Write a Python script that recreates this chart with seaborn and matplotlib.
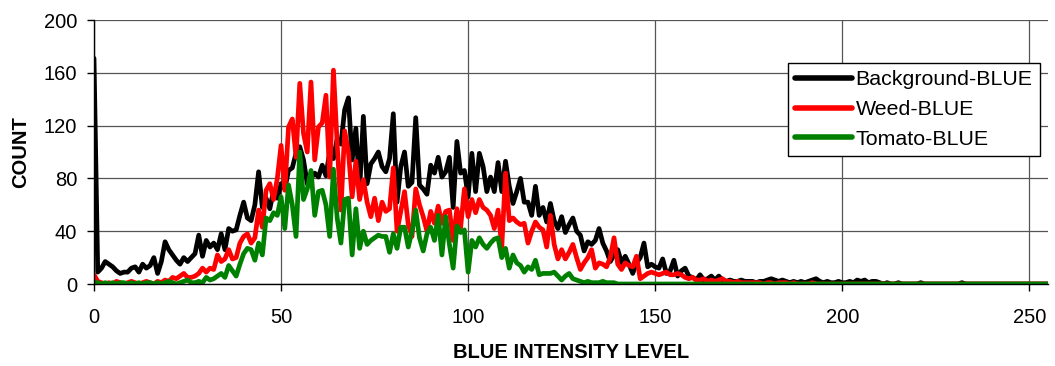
import numpy as np
import pandas as pd
import matplotlib
matplotlib.use("Agg")
import matplotlib.pyplot as plt
import seaborn as sns

intensity = list(range(256))

background_blue = [
    171, 9, 12, 17, 15, 13, 10, 8, 9, 9,
    12, 13, 9, 15, 12, 14, 20, 8, 17, 32,
    26, 22, 18, 15, 20, 17, 20, 23, 37, 21,
    33, 28, 31, 26, 38, 26, 42, 40, 41, 52,
    62, 50, 48, 60, 85, 58, 65, 57, 71, 65,
    76, 72, 86, 88, 99, 104, 94, 76, 80, 84,
    81, 90, 82, 100, 95, 110, 106, 132, 141, 94,
    118, 71, 127, 76, 91, 95, 100, 89, 85, 95,
    129, 62, 89, 100, 74, 77, 126, 75, 72, 68,
    90, 84, 96, 81, 85, 96, 58, 108, 84, 86,
    66, 99, 70, 99, 89, 70, 81, 70, 92, 70,
    93, 74, 61, 70, 80, 62, 62, 52, 74, 52,
    58, 47, 61, 48, 42, 51, 39, 45, 50, 40,
    37, 25, 32, 30, 33, 42, 31, 25, 17, 22,
    26, 16, 21, 15, 8, 16, 20, 31, 13, 15,
    13, 12, 19, 8, 10, 18, 6, 10, 12, 6,
    5, 3, 7, 3, 4, 6, 3, 6, 3, 2,
    3, 2, 2, 3, 2, 2, 2, 1, 2, 2,
    3, 4, 3, 2, 3, 2, 1, 2, 1, 2,
    1, 2, 3, 4, 2, 1, 2, 1, 1, 2,
    1, 1, 2, 1, 3, 2, 3, 1, 2, 2,
    1, 0, 1, 0, 0, 1, 0, 0, 0, 0,
    0, 1, 0, 0, 0, 0, 0, 0, 0, 0,
    0, 0, 1, 0, 0, 0, 0, 0, 0, 0,
    0, 0, 0, 0, 0, 0, 0, 0, 0, 0,
    0, 0, 0, 0, 0, 0,
]

weed_blue = [
    7, 2, 1, 0, 1, 0, 2, 1, 0, 1,
    2, 1, 0, 1, 2, 1, 0, 2, 1, 3,
    2, 5, 4, 6, 8, 5, 5, 6, 8, 12,
    9, 12, 11, 22, 17, 19, 26, 19, 20, 31,
    36, 38, 31, 35, 56, 43, 71, 76, 64, 80,
    105, 71, 119, 125, 96, 152, 114, 100, 153, 94,
    119, 122, 143, 81, 162, 106, 56, 116, 100, 66,
    93, 64, 79, 62, 51, 65, 48, 62, 55, 57,
    88, 40, 55, 70, 45, 36, 72, 60, 51, 40,
    55, 46, 59, 46, 55, 56, 33, 57, 43, 72,
    51, 64, 54, 64, 58, 56, 52, 42, 56, 28,
    84, 48, 50, 47, 45, 46, 31, 40, 47, 43,
    41, 28, 52, 30, 19, 26, 19, 24, 30, 20,
    11, 16, 20, 26, 12, 16, 15, 13, 20, 35,
    15, 11, 16, 14, 13, 21, 4, 6, 8, 9,
    8, 7, 8, 9, 7, 7, 8, 7, 5, 4,
    5, 3, 3, 4, 2, 3, 2, 3, 4, 2,
    2, 1, 2, 1, 1, 1, 1, 1, 1, 0,
    1, 1, 0, 1, 1, 1, 0, 1, 0, 0,
    0, 0, 1, 0, 0, 0, 0, 0, 0, 0,
    0, 0, 0, 0, 0, 0, 0, 0, 0, 0,
    0, 0, 0, 0, 0, 0, 0, 0, 0, 0,
    0, 0, 0, 0, 0, 0, 0, 0, 0, 0,
    0, 0, 0, 0, 0, 0, 0, 0, 0, 0,
    0, 0, 0, 0, 0, 0, 0, 0, 0, 0,
    0, 0, 0, 0, 0, 0,
]

tomato_blue = [
    1, 1, 0, 1, 0, 1, 0, 1, 1, 0,
    1, 0, 1, 0, 1, 1, 0, 1, 0, 1,
    2, 1, 0, 1, 2, 3, 1, 1, 2, 1,
    5, 3, 4, 6, 8, 5, 14, 10, 6, 15,
    23, 27, 26, 18, 31, 22, 50, 48, 54, 52,
    66, 42, 75, 60, 36, 100, 64, 72, 86, 52,
    70, 71, 60, 36, 87, 50, 31, 64, 65, 22,
    57, 27, 40, 30, 33, 35, 37, 36, 36, 24,
    38, 27, 43, 43, 28, 40, 56, 35, 25, 38,
    43, 33, 52, 22, 51, 30, 12, 44, 39, 41,
    9, 33, 28, 35, 30, 27, 31, 34, 35, 20,
    27, 12, 22, 16, 14, 9, 13, 11, 18, 7,
    8, 8, 8, 9, 6, 3, 6, 8, 4, 3,
    2, 1, 2, 1, 1, 1, 2, 1, 1, 1,
    0, 0, 0, 0, 0, 0, 0, 0, 0, 0,
    0, 0, 0, 0, 0, 0, 0, 0, 0, 0,
    0, 0, 0, 0, 0, 0, 0, 0, 0, 0,
    0, 0, 0, 0, 0, 0, 0, 0, 0, 0,
    0, 0, 0, 0, 0, 0, 0, 0, 0, 0,
    0, 0, 0, 0, 0, 0, 0, 0, 0, 0,
    0, 0, 0, 0, 0, 0, 0, 0, 0, 0,
    0, 0, 0, 0, 0, 0, 0, 0, 0, 0,
    0, 0, 0, 0, 0, 0, 0, 0, 0, 0,
    0, 0, 0, 0, 0, 0, 0, 0, 0, 0,
    0, 0, 0, 0, 0, 0, 0, 0, 0, 0,
    0, 0, 0, 0, 0, 0,
]

series_names = ["Background-BLUE", "Weed-BLUE", "Tomato-BLUE"]
series_colors = ["#000000", "#ff0000", "#008000"]
x_ticks = [0, 50, 100, 150, 200, 250]
y_ticks = [0, 40, 80, 120, 160, 200]

df = pd.concat([
    pd.DataFrame({"level": intensity, "count": vals, "series": name})
    for name, vals in zip(series_names, [background_blue, weed_blue, tomato_blue])
], ignore_index=True)

sns.set_style("white")
plt.rcParams["font.family"] = ["Liberation Sans", "DejaVu Sans"]
plt.rcParams["text.color"] = "black"
plt.rcParams["axes.labelcolor"] = "black"
plt.rcParams["xtick.color"] = "black"
plt.rcParams["ytick.color"] = "black"

fig = plt.figure(figsize=(10.55, 3.66), dpi=100)
ax = fig.add_axes([94 / 1055, 1 - 284 / 366, (1048 - 94) / 1055, (284 - 20) / 366])

sns.lineplot(data=df, x="level", y="count", hue="series", hue_order=series_names,
             palette=series_colors, linewidth=3.4, ax=ax, legend=True)
for line in ax.get_lines():
    line.set_solid_joinstyle("round")
    line.set_solid_capstyle("round")

ax.set_xlim(0, 255)
ax.set_ylim(0, 200)
ax.set_xticks(x_ticks)
ax.set_yticks(y_ticks)
ax.tick_params(axis="both", direction="out", length=5, width=1, colors="black",
               labelsize=14.5, left=True, bottom=True)
ax.tick_params(axis="x", pad=12.5)
ax.tick_params(axis="y", pad=7)
ax.grid(True, color="#555555", linewidth=0.9)
ax.set_axisbelow(True)
for side in ["top", "right"]:
    ax.spines[side].set_visible(False)
for side in ["left", "bottom"]:
    ax.spines[side].set_color("black")
    ax.spines[side].set_linewidth(1)

ax.set_xlabel("BLUE INTENSITY LEVEL", fontsize=14.5, fontweight="bold",
              labelpad=11.5, color="black")
ax.set_ylabel("COUNT", fontsize=14.5, fontweight="bold", labelpad=10, color="black")

leg = ax.legend(loc="upper left", bbox_to_anchor=(788 / 1055, 1 - 63 / 366),
                bbox_transform=fig.transFigure, fontsize=15.4, frameon=True,
                fancybox=False, framealpha=1, edgecolor="black",
                handlelength=2.66, handletextpad=0.15, borderpad=0.35,
                labelspacing=0.5, borderaxespad=0)
leg.get_frame().set_linewidth(1)
for line in leg.get_lines():
    line.set_linewidth(4)
for t in leg.get_texts():
    t.set_color("black")

fig.savefig("out.png", dpi=100)
